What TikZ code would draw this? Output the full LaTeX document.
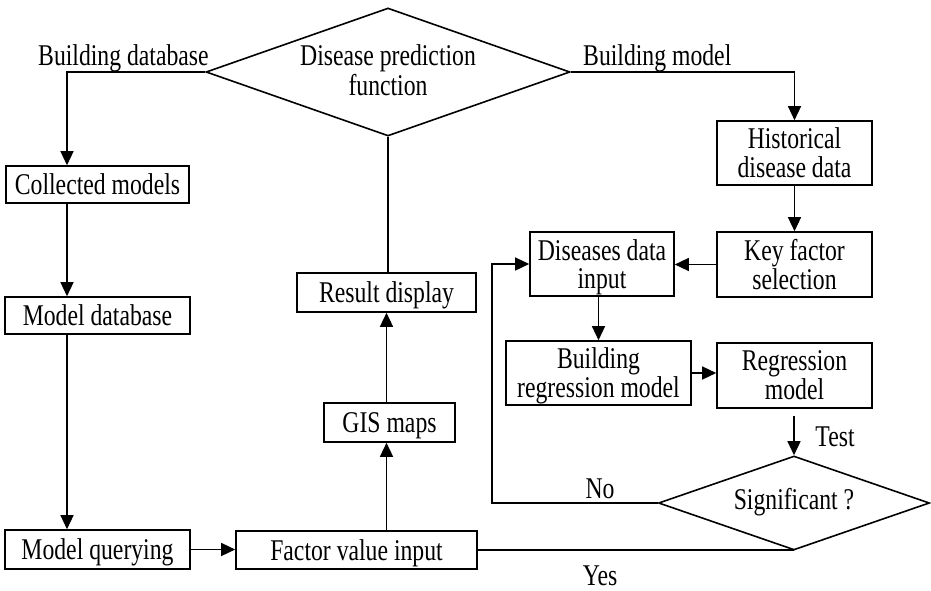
\documentclass[tikz,border=0pt]{standalone}
\usepackage{fontspec}
\setmainfont{Liberation Serif}
\usepackage{graphicx}
\usetikzlibrary{shapes.geometric,arrows.meta}
\newcommand{\tl}[1]{\scalebox{1}[1.27]{\begin{tabular}{@{}c@{}}#1\end{tabular}}}
\newcommand{\tx}[1]{\raisebox{-4pt}[\height][\depth]{\tl{#1}}}
\newcommand{\tw}[1]{\scalebox{1}[1.27]{#1}}
\begin{document}
\begin{tikzpicture}[x=1pt,y=-1pt,
  every node/.style={font=\fontsize{23.7}{21.5}\selectfont},
  box/.style={draw,line width=1.6pt,rectangle,inner sep=0pt},
  dia/.style={draw,line width=1.6pt,diamond,inner sep=0pt},
  lbl/.style={inner sep=0pt},
  conn/.style={line width=1.4pt},
  arr/.style={line width=1.4pt,-{Triangle[length=14pt,width=13pt]}}]
\useasboundingbox (0,0) rectangle (931,591);
% boxes
\node[box,minimum width=183pt,minimum height=37pt] (coll) at (97.5,184.5) {\tx{Collected models}};
\node[box,minimum width=185pt,minimum height=37pt] (mdb) at (97.5,315.5) {\tx{Model database}};
\node[box,minimum width=185pt,minimum height=39pt] (mq) at (97.5,549.5) {\tx{Model querying}};
\node[box,minimum width=241pt,minimum height=38pt] (fvi) at (356.5,550) {\tx{Factor value input}};
\node[box,minimum width=131pt,minimum height=39pt] (gis) at (389.5,422.5) {\tx{GIS maps}};
\node[box,minimum width=179pt,minimum height=39pt] (res) at (386.5,292.5) {\tx{Result display}};
\node[box,minimum width=155pt,minimum height=64pt] (hist) at (794.5,153) {\tx{Historical\\disease data}};
\node[box,minimum width=155pt,minimum height=65pt] (key) at (794.5,264.5) {\tx{Key factor\\selection}};
\node[box,minimum width=144pt,minimum height=64pt] (ddi) at (602,264) {\tx{Diseases data\\input}};
\node[box,minimum width=185pt,minimum height=64pt] (breg) at (598.5,373) {\tx{Building\\regression model}};
\node[box,minimum width=155pt,minimum height=65pt] (reg) at (794.5,375.5) {\tx{Regression\\model}};
% diamonds
\node[dia,minimum width=364pt,minimum height=128pt] (d1) at (388,72) {};
\node[lbl] (d1t) at (388,70) {\tx{Disease prediction\\function}};
\node[dia,minimum width=271pt,minimum height=94pt] (d2) at (794,503) {};
\node[lbl] (d2t) at (794,499) {\tx{Significant ?}};
% labels
\node[lbl,anchor=base west] (lbd) at (38,67) {\tl{Building database}};
\node[lbl,anchor=base west] (lbm) at (583,67) {\tl{Building model}};
\node[lbl] (ltest) at (835,437) {\tw{Test}};
\node[lbl] (lno) at (600,489) {\tw{No}};
\node[lbl] (lyes) at (600,576) {\tw{Yes}};
% connectors
\coordinate (c1) at (67,72);
\draw[arr] (d1.west) -- (c1) -- (c1 |- coll.north);
\draw[arr] (c1 |- coll.south) -- (c1 |- mdb.north);
\draw[arr] (c1 |- mdb.south) -- (c1 |- mq.north);
\draw[arr] (mq.east) -- (mq.east -| fvi.west);
\draw[arr] (fvi.north -| res) -- (gis.south -| res);
\draw[arr] (gis.north -| res) -- (res.south);
\draw[conn] (d1.south) -- (d1.south |- res.north);
\coordinate (c2) at (hist.north |- d1.east);
\draw[arr] (d1.east) -- (c2) -- (hist.north);
\draw[arr] (hist.south) -- (key.north);
\draw[arr] (key.west) -- (key.west -| ddi.east);
\draw[arr] (breg.north |- ddi.south) -- (breg.north);
\draw[arr] (breg.east) -- (breg.east -| reg.west);
\draw[arr,shorten <=7pt] (reg.south -| d2.north) -- (d2.north);
\coordinate (c3) at (492,503);
\draw[arr] (d2.west) -- (c3) |- (ddi.west);
\draw[conn] (fvi.east) -- (fvi.east -| d2.south);
\end{tikzpicture}
\end{document}
